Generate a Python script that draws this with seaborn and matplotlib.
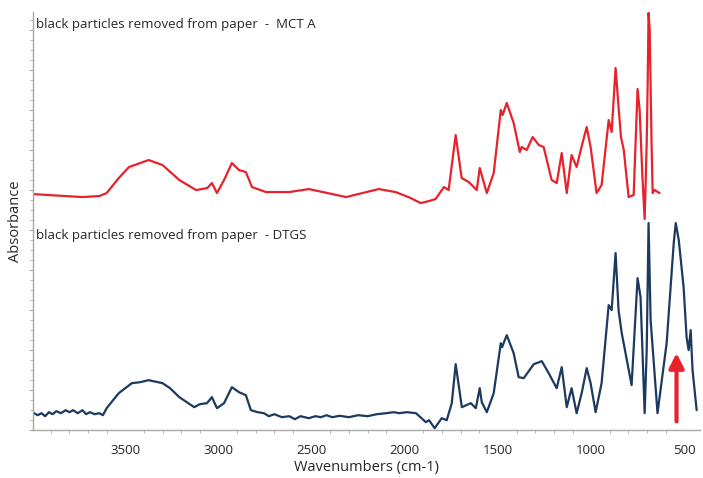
import numpy as np
import pandas as pd
import matplotlib
matplotlib.use("Agg")
import matplotlib.pyplot as plt
from matplotlib.ticker import MultipleLocator, NullFormatter
import seaborn as sns

# spectrum: wavenumber (cm-1) and absorbance (a.u.)
mct_wn = [4000, 3910, 3820, 3730, 3640, 3600, 3535, 3480, 3375, 3300, 3210, 3120,
          3060, 3035, 3008, 2970, 2928, 2890, 2853, 2820, 2745, 2620, 2515, 2390,
          2315, 2140, 2050, 1980, 1915, 1870, 1835, 1790, 1765, 1727, 1695, 1657,
          1614, 1598, 1560, 1523, 1485, 1475, 1453, 1416, 1383, 1373, 1346, 1314,
          1281, 1255, 1212, 1185, 1158, 1131, 1105, 1078, 1056, 1024, 1003, 971,
          944, 906, 890, 869, 853, 840, 825, 799, 772, 751, 740, 725, 713, 702,
          697, 692, 686, 676, 670, 660, 633]
mct_abs = [0.08, 0.075, 0.07, 0.065, 0.07, 0.085, 0.16, 0.215, 0.25, 0.225, 0.15, 0.10,
           0.11, 0.135, 0.085, 0.15, 0.235, 0.20, 0.19, 0.115, 0.09, 0.09, 0.105, 0.08,
           0.065, 0.105, 0.09, 0.065, 0.035, 0.045, 0.055, 0.115, 0.10, 0.375, 0.16, 0.14,
           0.10, 0.21, 0.085, 0.185, 0.50, 0.475, 0.535, 0.435, 0.29, 0.315, 0.30, 0.365,
           0.325, 0.315, 0.15, 0.135, 0.285, 0.085, 0.275, 0.215, 0.30, 0.415, 0.315, 0.085,
           0.125, 0.45, 0.39, 0.71, 0.515, 0.365, 0.30, 0.065, 0.075, 0.605, 0.50, 0.165,
           -0.045, 0.335, 0.625, 0.985, 0.90, 0.335, 0.085, 0.10, 0.085]

dtgs_wn = [4000, 3970, 3950, 3930, 3910, 3890, 3870, 3845, 3820, 3800, 3780, 3755,
           3730, 3710, 3690, 3665, 3640, 3620, 3600, 3535, 3465, 3420, 3375, 3300,
           3260, 3210, 3130, 3100, 3062, 3035, 3008, 2970, 2928, 2890, 2853, 2826,
           2790, 2756, 2730, 2700, 2660, 2620, 2590, 2560, 2515, 2480, 2450, 2420,
           2390, 2350, 2300, 2250, 2200, 2150, 2100, 2060, 2030, 1990, 1940, 1887,
           1870, 1840, 1802, 1775, 1748, 1727, 1694, 1646, 1619, 1598, 1587, 1560,
           1523, 1485, 1478, 1453, 1416, 1389, 1362, 1308, 1265, 1228, 1185, 1158,
           1131, 1105, 1078, 1051, 1024, 1003, 976, 944, 906, 890, 869, 853, 836,
           783, 751, 735, 713, 702, 692, 681, 644, 595, 557, 546, 530, 504, 488,
           477, 466, 456, 434]
dtgs_abs = [0.09, 0.075, 0.085, 0.07, 0.09, 0.08, 0.095, 0.085, 0.10, 0.09, 0.10, 0.085,
            0.10, 0.08, 0.09, 0.08, 0.085, 0.075, 0.11, 0.185, 0.235, 0.24, 0.25, 0.235,
            0.21, 0.165, 0.115, 0.13, 0.135, 0.165, 0.11, 0.135, 0.215, 0.19, 0.175, 0.10,
            0.09, 0.085, 0.07, 0.08, 0.065, 0.07, 0.055, 0.07, 0.06, 0.07, 0.065, 0.075,
            0.065, 0.072, 0.065, 0.075, 0.07, 0.08, 0.085, 0.09, 0.085, 0.09, 0.085, 0.04,
            0.05, 0.01, 0.06, 0.05, 0.135, 0.33, 0.115, 0.135, 0.11, 0.21, 0.14, 0.09,
            0.185, 0.435, 0.415, 0.475, 0.385, 0.265, 0.26, 0.33, 0.345, 0.285, 0.21, 0.315,
            0.115, 0.21, 0.085, 0.185, 0.31, 0.235, 0.09, 0.235, 0.625, 0.60, 0.885, 0.60,
            0.485, 0.225, 0.76, 0.665, 0.085, 0.40, 1.035, 0.55, 0.085, 0.435, 0.935, 1.035,
            0.95, 0.715, 0.465, 0.40, 0.50, 0.30, 0.10]

mct_label = "black particles removed from paper  -  MCT A"
dtgs_label = "black particles removed from paper  - DTGS"
mct_offset = 1.1
arrow_wn = 542

red = "#e8222b"
navy = "#1c3a60"

sns.set_style("white")
plt.rcParams["font.family"] = ["Open Sans", "DejaVu Sans"]

fig = plt.figure(figsize=(7.03, 4.78), dpi=100)
ax = fig.add_axes([0.047, 0.100, 0.949, 0.875])

mct = pd.DataFrame({"wn": mct_wn, "A": np.array(mct_abs) + mct_offset})
dtgs = pd.DataFrame({"wn": dtgs_wn, "A": dtgs_abs})
sns.lineplot(data=mct, x="wn", y="A", color=red, lw=1.6, estimator=None, sort=False, ax=ax)
sns.lineplot(data=dtgs, x="wn", y="A", color=navy, lw=1.6, estimator=None, sort=False, ax=ax)

ax.set_xlim(3995, 415)
ax.set_ylim(0, 2.09)

ax.annotate("", xy=(arrow_wn, 0.40), xytext=(arrow_wn, 0.03),
            arrowprops=dict(arrowstyle="-|>", color=red, lw=3, mutation_scale=22))

ax.text(0.005, 0.969, mct_label, transform=ax.transAxes, fontsize=9.5, va="center")
ax.text(0.005, 0.466, dtgs_label, transform=ax.transAxes, fontsize=9.5, va="center")

ax.set_xlabel("Wavenumbers (cm-1)", fontsize=10.5, labelpad=2)
ax.set_ylabel("Absorbance", fontsize=10.5, labelpad=1)

for s in ["top", "right"]:
    ax.spines[s].set_visible(False)
for s in ["left", "bottom"]:
    ax.spines[s].set_color("#a8a8a8")
    ax.spines[s].set_linewidth(1.0)

ax.xaxis.set_major_locator(MultipleLocator(500))
ax.xaxis.set_minor_locator(MultipleLocator(100))
ax.yaxis.set_major_locator(MultipleLocator(0.2))
ax.yaxis.set_minor_locator(MultipleLocator(0.05))
ax.yaxis.set_major_formatter(NullFormatter())
ax.tick_params(axis="x", which="major", length=4, color="#a8a8a8", labelsize=9.5, pad=6)
ax.tick_params(axis="x", which="minor", length=2.5, color="#a8a8a8", bottom=True)
ax.tick_params(axis="y", which="major", length=3, color="#a8a8a8", left=True)
ax.tick_params(axis="y", which="minor", length=2, color="#a8a8a8", left=True)

fig.savefig("out.png", dpi=100)
